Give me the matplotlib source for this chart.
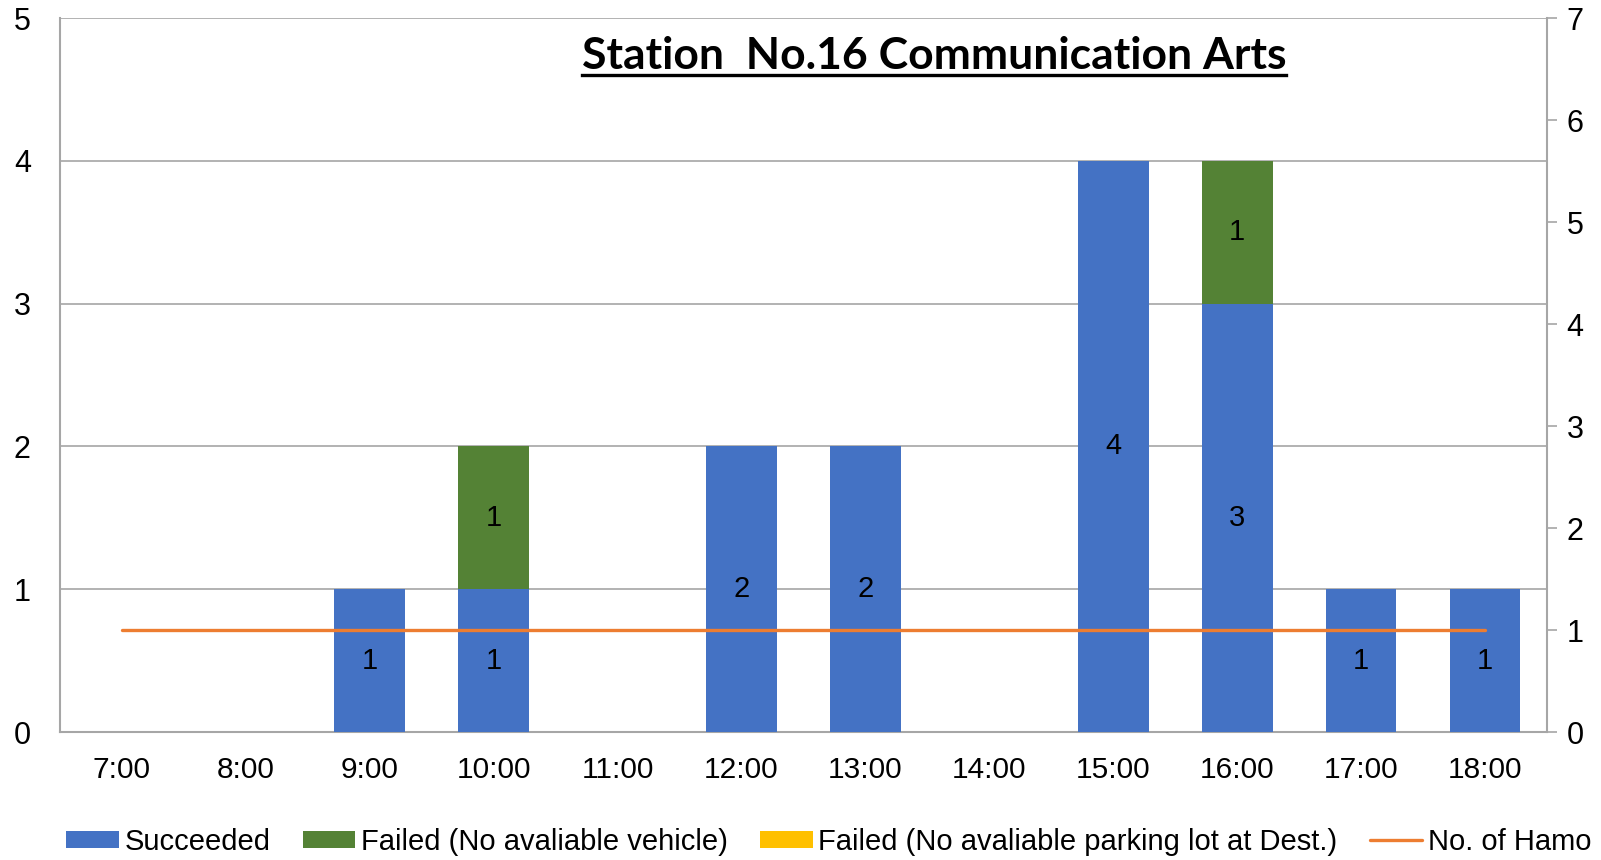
import matplotlib
matplotlib.use("Agg")
import matplotlib.pyplot as plt
from matplotlib.lines import Line2D
import numpy as np

# chart data
hours = ["7:00", "8:00", "9:00", "10:00", "11:00", "12:00",
         "13:00", "14:00", "15:00", "16:00", "17:00", "18:00"]
succeeded = [0, 0, 1, 1, 0, 2, 2, 0, 4, 3, 1, 1]
failed_vehicle = [0, 0, 0, 1, 0, 0, 0, 0, 0, 1, 0, 0]
failed_parking = [0, 0, 0, 0, 0, 0, 0, 0, 0, 0, 0, 0]
no_of_hamo = [1, 1, 1, 1, 1, 1, 1, 1, 1, 1, 1, 1]

title = "Station  No.16 Communication Arts"

BLUE = "#4472C4"
GREEN = "#548235"
YELLOW = "#FFC000"
ORANGE = "#ED7D31"
GRID = "#A6A6A6"

plt.rcParams["font.family"] = ["Liberation Sans", "DejaVu Sans"]

fig = plt.figure(figsize=(16.01, 8.6), dpi=100)
ax = fig.add_axes([60 / 1601, 1 - 732 / 860, (1547 - 60) / 1601, (732 - 18) / 860])
ax2 = ax.twinx()

x = np.arange(len(hours))
w = 0.57
s = np.array(succeeded)
fv = np.array(failed_vehicle)
fp = np.array(failed_parking)

b1 = ax.bar(x, s, w, color=BLUE, zorder=3, label="Succeeded")
b2 = ax.bar(x, fv, w, bottom=s, color=GREEN, zorder=3,
            label="Failed (No avaliable vehicle)")
b3 = ax.bar(x, fp, w, bottom=s + fv, color=YELLOW, zorder=3,
            label="Failed (No avaliable parking lot at Dest.)")

# data labels in the middle of each non-zero segment
for vals, bottoms in [(s, np.zeros_like(s)), (fv, s), (fp, s + fv)]:
    for xi, v, b in zip(x, vals, bottoms):
        if v > 0:
            ax.text(xi, b + v / 2, str(v), ha="center", va="center",
                    fontsize=21, color="black", zorder=5)

ln, = ax2.plot(x, no_of_hamo, color=ORANGE, lw=2.4, label="No. of Hamo",
               solid_capstyle="round")

ax.set_xlim(-0.5, len(hours) - 0.5)
ax.set_ylim(0, 5)
ax.set_yticks(range(0, 6))
ax2.set_ylim(0, 7)
ax2.set_yticks(range(0, 8))
ax.set_xticks(x)
ax.set_xticklabels(hours)

ax.grid(True, axis="y", color=GRID, lw=1.2, zorder=0)
ax.set_axisbelow(True)
ax.tick_params(axis="x", length=0, labelsize=21.5, pad=17)
ax.tick_params(axis="y", length=0, labelsize=22, pad=21)
ax2.tick_params(axis="y", length=7, width=1.2, color=GRID, labelsize=22, pad=7)

for a in (ax, ax2):
    for side in ("left", "right", "bottom", "top"):
        a.spines[side].set_color(GRID)
        a.spines[side].set_linewidth(1.5)
    a.spines["top"].set_visible(False)
ax.spines["right"].set_visible(False)
ax2.spines["left"].set_visible(False)
ax2.spines["bottom"].set_visible(False)

# title with underline
t = fig.text(934 / 1601, 1 - 56 / 860, title, ha="center", va="center",
             fontsize=32, fontweight="bold", family=["Lato", "DejaVu Sans"])
fig.canvas.draw()
bb = t.get_window_extent()
uy = 1 - 74.5 / 860
fig.add_artist(Line2D([bb.x0 / 1601, bb.x1 / 1601], [uy, uy],
                      transform=fig.transFigure, color="black", lw=2.4))

fig.legend(handles=[b1, b2, b3, ln], loc="center", ncol=4,
           bbox_to_anchor=(829 / 1601, 1 - 842 / 860), frameon=False,
           fontsize=21, handlelength=1.8, handleheight=0.55,
           handletextpad=0.2, columnspacing=1.1, borderaxespad=0)

fig.savefig("out.png", dpi=100)
